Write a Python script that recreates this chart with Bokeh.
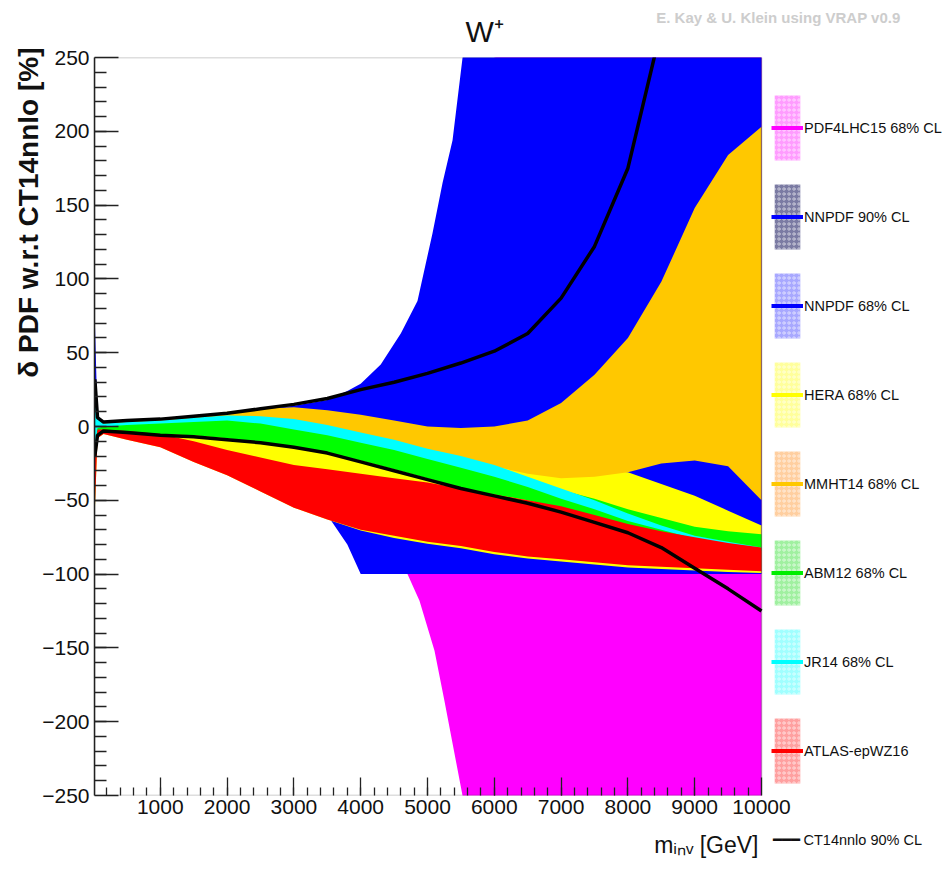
from bokeh.plotting import figure
from bokeh.models import (Range1d, FixedTicker, Legend, LegendItem, ColumnDataSource, Title,
                          BoxAnnotation)
from bokeh.embed import file_html
from bokeh.resources import INLINE

# ---------------- data ----------------
m_grid = [20, 60, 150, 500, 1000, 1500, 2000, 2500, 3000, 3500, 4000, 4500, 5000,
          5500, 6000, 6500, 7000, 7500, 8000, 8500, 9000, 9500, 10000]

ct14_hi = [32, 6, 3, 4, 5, 7, 9, 12, 15, 19, 25, 30, 36, 43, 51, 63, 87, 122, 175, 270, 380, 500, 650]
ct14_lo = [-20, -6, -3, -4, -6, -7, -9, -11, -14, -18, -24, -30, -36, -42, -47, -52, -58, -65, -72, -82, -96, -110, -125]

mmht_hi = [8, 4, 3, 3.5, 5, 7, 10, 12, 13, 11, 8, 4, 0, -1, 0, 4, 16, 35, 60, 98, 148, 184, 203]
mmht_lo = [-5, 3, 0, 1, 2, 3, 5, 5, 3, -1, -6, -11, -17, -22, -27, -32, -35, -34, -31, -25, -23, -27, -50]

hera_hi = [5, 3, 2, 3, 4, 6, 8, 9, 9, 7, 2, -3, -8, -14, -19, -25, -28, -29, -31, -39, -47, -57, -67]
hera_lo = [-58, -8, -5, -9, -14, -24, -33, -44, -55, -63, -70.5, -75.5, -79.5, -82.5, -86.5, -89.5,
           -91.5, -93.5, -95.5, -96.5, -97.5, -98.5, -99.3]

abm_hi = [10, 1, 1, 2, 3, 4, 5, 3, 0, -4, -9, -14, -20, -25, -30, -37, -43, -49, -56, -62, -68, -71, -73]
abm_lo = [-10, -4, -3, -4, -5, -6, -8, -11, -14, -18, -23, -29, -35, -42, -46, -50, -55, -61, -67, -72, -76, -80, -84]

jr14_hi = [20, 5, 2, 3, 4, 6, 7.5, 7, 5, 1, -4, -9, -15, -20, -26, -34, -42, -50, -59, -67, -74, -78, -82]
jr14_lo = [-15, -1, 0, 1, 2, 3, 4, 2, -2, -6, -11, -16, -22, -28, -34, -41, -49, -56, -64, -70, -76, -80, -84]

atlas_hi = [-15, -2, -2, -3, -5, -10, -16, -21, -26, -29, -32, -35, -38, -42, -46, -50, -54, -60, -66, -71, -75, -79, -82]
atlas_lo = [-56, -8, -5, -9, -14, -24, -33, -44, -55, -63, -70, -74, -78, -81, -85, -88, -90, -92, -94, -95, -96, -97, -98]

nnpdf_m = [20, 60, 150, 500, 1000, 2000, 3000, 3500, 3800, 4000, 4300, 4600, 4850, 5075, 5225, 5375, 5525, 6000, 10000]
nnpdf_hi = [72, 6, 3, 3.5, 4.5, 9, 14, 18, 24, 29, 42, 63, 85, 131, 165, 194, 250, 330, 420]
nnpdf_lo = [-10, -5, -3, -6, -10, -25, -45, -60, -80, -100, -100, -100, -100, -100, -100, -100, -100, -100, -100]

pdf4lhc_m = [4600, 4700, 4880, 5105, 5254, 5524, 6000, 10000]
pdf4lhc_hi = [-95, 0, 40, 80, 120, 180, 250, 300]
pdf4lhc_lo = [-95, -100, -118, -152, -186, -250, -330, -330]

x_ticks = [1000, 2000, 3000, 4000, 5000, 6000, 7000, 8000, 9000, 10000]
x_minor = [m for m in range(200, 10000, 200)]
y_ticks = [-250, -200, -150, -100, -50, 0, 50, 100, 150, 200, 250]
y_minor = [v for v in range(-240, 250, 10)]

legend_labels = ["PDF4LHC15 68% CL", "NNPDF 90% CL", "NNPDF 68% CL", "HERA 68% CL",
                 "MMHT14 68% CL", "ABM12 68% CL", "JR14 68% CL", "ATLAS-epWZ16"]
legend_fill = ["#ff9cff", "#7b7ba3", "#a8a8ff", "#ffff9c", "#ffcfa0", "#a0f0a0",
               "#a0ffff", "#ffa0a0"]
legend_line = ["#ff00ff", "#0000ff", "#0000ff", "#ffff00", "#ffc800", "#00ee00",
               "#00ffff", "#ff0000"]
ct14_label = "\u2501\u2501\u2501 CT14nnlo 90% CL"

title_text = "W\u207a"
credit_text = "E. Kay & U. Klein using VRAP v0.9"
y_title = "\u03b4 PDF w.r.t CT14nnlo [%]"
x_title = "m\u1d62\u2099\u1d65 [GeV]"

FONT = "Liberation Sans"
W, H = 949, 872
LEFT, RIGHT, TOP, FRAME_H = 94, 4, 57, 738
X0, X1 = 15, 10000
FRAME_W = W - LEFT - RIGHT        # frame runs on under the legend
DATA_W = 667                      # pixels covered by 15..10000
X_END = X0 + (X1 - X0) * FRAME_W / DATA_W
NAN = float("nan")

p = figure(width=W, height=H, x_range=Range1d(X0, X_END), y_range=Range1d(-250, 250),
           output_backend="svg", toolbar_location=None, title_location=None,
           min_border_left=LEFT, min_border_right=RIGHT, min_border_top=TOP,
           min_border_bottom=H - TOP - FRAME_H)
p.xgrid.visible = False
p.ygrid.visible = False
p.outline_line_color = None
p.background_fill_color = "white"
p.border_fill_color = "white"


def band(xs, lo, hi, color):
    src = ColumnDataSource(dict(m=xs, lo=lo, hi=hi))
    p.varea(x="m", y1="lo", y2="hi", source=src, fill_color=color, fill_alpha=1.0)


band(pdf4lhc_m, pdf4lhc_lo, pdf4lhc_hi, "#ff00ff")
band(nnpdf_m, nnpdf_lo, nnpdf_hi, "#0000ff")
band(m_grid, hera_lo, hera_hi, "#ffff00")
band(m_grid, mmht_lo, mmht_hi, "#ffc800")
band(m_grid, abm_lo, abm_hi, "#00ff00")
band(m_grid, jr14_lo, jr14_hi, "#00ffff")
band(m_grid, atlas_lo, atlas_hi, "#ff0000")

ct_src = ColumnDataSource(dict(m=m_grid, hi=ct14_hi, lo=ct14_lo))
p.line(x="m", y="hi", source=ct_src, line_color="black", line_width=3.5)
p.line(x="m", y="lo", source=ct_src, line_color="black", line_width=3.5)

# plotting box (frame border of the data region)
p.add_layout(BoxAnnotation(left=X0, right=X1, bottom=-250, top=250, fill_alpha=0,
                           line_color="#222222", line_width=1.5))

# axes
p.xaxis.ticker = FixedTicker(ticks=x_ticks, minor_ticks=x_minor)
p.yaxis.ticker = FixedTicker(ticks=y_ticks, minor_ticks=y_minor)
p.yaxis.major_label_overrides = {float(t): str(t).replace("-", "\u2212") for t in y_ticks}
for ax in (p.xaxis, p.yaxis):
    ax.major_tick_out = 0
    ax.minor_tick_out = 0
    ax.axis_line_width = 1.5
    ax.axis_line_color = "#222222"
    ax.major_tick_line_color = "#222222"
    ax.minor_tick_line_color = "#222222"
    ax.major_tick_line_width = 1.3
    ax.minor_tick_line_width = 1.3
    ax.major_label_text_font = FONT
    ax.major_label_text_font_size = "21px"
    ax.major_label_text_color = "#111111"
p.xaxis.axis_line_color = None
p.xaxis.major_tick_in = 18
p.xaxis.minor_tick_in = 8
p.yaxis.major_tick_in = 24
p.yaxis.minor_tick_in = 12
p.xaxis.major_label_standoff = 4
p.yaxis.major_label_standoff = 5

# titles in the side panels
p.add_layout(Title(text=title_text, align="left", offset=371, standoff=19,
                   text_font=FONT, text_font_size="30px", text_font_style="normal",
                   text_color="#111111"), "above")
p.add_layout(Title(text=credit_text, align="right", offset=45, standoff=-45,
                   text_font=FONT, text_font_size="15px", text_font_style="bold",
                   text_color="#cdcdcd"), "above")
p.add_layout(Title(text=y_title, align="right", offset=-10, standoff=-8,
                   text_font=FONT, text_font_size="28px", text_font_style="bold",
                   text_color="#111111"), "left")
p.add_layout(Title(text=x_title, align="right", offset=187, standoff=26,
                   text_font=FONT, text_font_size="23px", text_font_style="normal",
                   text_color="#111111"), "below")
p.add_layout(Title(text=ct14_label, align="left", offset=678, standoff=-77,
                   vertical_align="top", text_font=FONT, text_font_size="14.5px",
                   text_font_style="normal", text_color="#111111"), "below")

# legend inside the (widened) frame; dummy renderers provide the icons
items = []
for lab, fc, lc in zip(legend_labels, legend_fill, legend_line):
    ra = p.varea(x=[NAN], y1=[NAN], y2=[NAN], fill_color=fc, hatch_pattern="ring",
                 hatch_color="white", hatch_alpha=0.55, hatch_scale=5, hatch_weight=1)
    rl = p.line(x=[NAN], y=[NAN], line_color=lc, line_width=4)
    items.append(LegendItem(label=lab, renderers=[ra, rl]))
legend = Legend(items=items, location=(677, 4), glyph_width=32, glyph_height=81,
                spacing=8, padding=0, margin=0, label_standoff=1, ncols=1,
                label_text_font=FONT, label_text_font_size="14.5px", label_text_color="#111111",
                border_line_alpha=0, background_fill_alpha=0)
p.add_layout(legend)

open("out.html", "w").write(file_html(p, INLINE))
